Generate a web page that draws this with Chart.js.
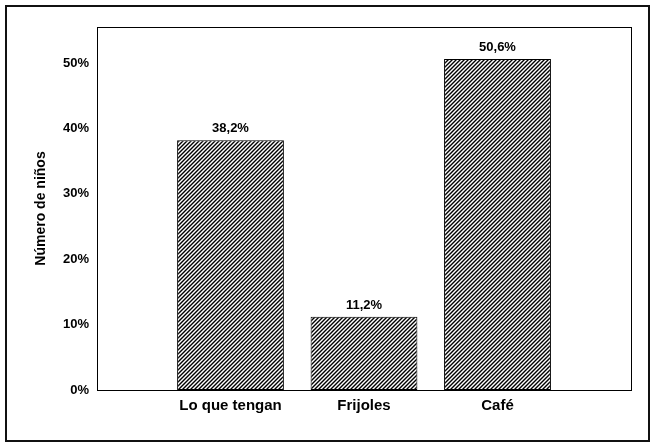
<!DOCTYPE html>
<html>
<head>
<meta charset="utf-8">
<script src="https://cdn.jsdelivr.net/npm/chart.js@4"></script>
<style>
  html, body { margin: 0; padding: 0; background: #fff; }
  #wrap { width: 655px; height: 446px; }
</style>
</head>
<body>
<div id="wrap"><canvas id="myChart" width="655" height="446"></canvas></div>
<script>
// data
var categories = ["Lo que tengan", "Frijoles", "Café"];
var valores = [38.2, 11.2, 50.6];
var yTicks = [0, 10, 20, 30, 40, 50];

var FONT = "'Liberation Sans', Arial, sans-serif";

// empty slots at both ends so the bars sit like in the original
var labels = [""].concat(categories, [""]);
var data = [null].concat(valores, [null]);

// diagonal hatch ///
function makeHatch() {
    var c = document.createElement("canvas");
    c.width = 4;
    c.height = 4;
    var g = c.getContext("2d");
    g.fillStyle = "#fff";
    g.fillRect(0, 0, 4, 4);
    g.strokeStyle = "#000";
    g.lineWidth = 1.4;
    g.beginPath();
    g.moveTo(0, 4); g.lineTo(4, 0);
    g.moveTo(-1, 1); g.lineTo(1, -1);
    g.moveTo(3, 5); g.lineTo(5, 3);
    g.stroke();
    return g.createPattern(c, "repeat");
}

var framePlugin = {
    id: "frame",
    beforeDraw: function (chart) {
        var ctx = chart.ctx;
        ctx.save();
        ctx.fillStyle = "#fff";
        ctx.fillRect(0, 0, chart.width, chart.height);
        ctx.strokeStyle = "#111";
        ctx.lineWidth = 2;
        ctx.strokeRect(6, 6, chart.width - 12, chart.height - 11);
        ctx.restore();
    },
    afterDatasetsDraw: function (chart) {
        var ctx = chart.ctx;
        var a = chart.chartArea;
        ctx.save();
        ctx.strokeStyle = "#000";
        ctx.lineWidth = 1;
        ctx.strokeRect(Math.round(a.left) + 0.5, Math.round(a.top) + 0.5,
            Math.round(a.right - a.left), Math.round(a.bottom - a.top));
        // value labels above the bars
        ctx.fillStyle = "#000";
        ctx.font = "bold 13px " + FONT;
        ctx.textAlign = "center";
        ctx.textBaseline = "bottom";
        chart.getDatasetMeta(0).data.forEach(function (bar, i) {
            var v = data[i];
            if (v === null) return;
            ctx.fillText(v.toFixed(1).replace(".", ",") + "%", bar.x, bar.y - 5);
        });
        ctx.restore();
    },
};

var ctx = document.getElementById("myChart").getContext("2d");
var myChart = new Chart(ctx, {
    type: "bar",
    data: {
        labels: labels,
        datasets: [
            {
                data: data,
                backgroundColor: makeHatch(),
                borderColor: "#000",
                borderWidth: 1,
                borderSkipped: false,
                categoryPercentage: 1,
                barPercentage: 0.8,
            },
        ],
    },
    options: {
        responsive: false,
        animation: false,
        layout: {
            padding: { left: 0, right: 24, top: 27, bottom: 16 },
        },
        plugins: {
            legend: { display: false },
            tooltip: { enabled: false },
        },
        scales: {
            x: {
                offset: false,
                grid: { display: false, offset: false, drawTicks: false },
                border: { display: false },
                ticks: {
                    color: "#000",
                    font: { family: FONT, size: 15, weight: "bold" },
                    padding: 7,
                    maxRotation: 0,
                    autoSkip: false,
                },
                afterFit: function (scale) {
                    scale.height = 40;
                },
            },
            y: {
                min: 0,
                max: 55.5,
                afterBuildTicks: function (scale) {
                    scale.ticks = yTicks.map(function (v) { return { value: v }; });
                },
                grid: { display: false, drawTicks: false },
                border: { display: false },
                ticks: {
                    color: "#000",
                    font: { family: FONT, size: 13, weight: "bold" },
                    padding: 8,
                    callback: function (v) { return v + "%"; },
                },
                title: {
                    display: true,
                    text: "Número de niños",
                    color: "#000",
                    font: { family: FONT, size: 14, weight: "bold" },
                    padding: { top: 33, bottom: 0 },
                },
                afterFit: function (scale) {
                    scale.width = 97;
                },
            },
        },
    },
    plugins: [framePlugin],
});
</script>
</body>
</html>
